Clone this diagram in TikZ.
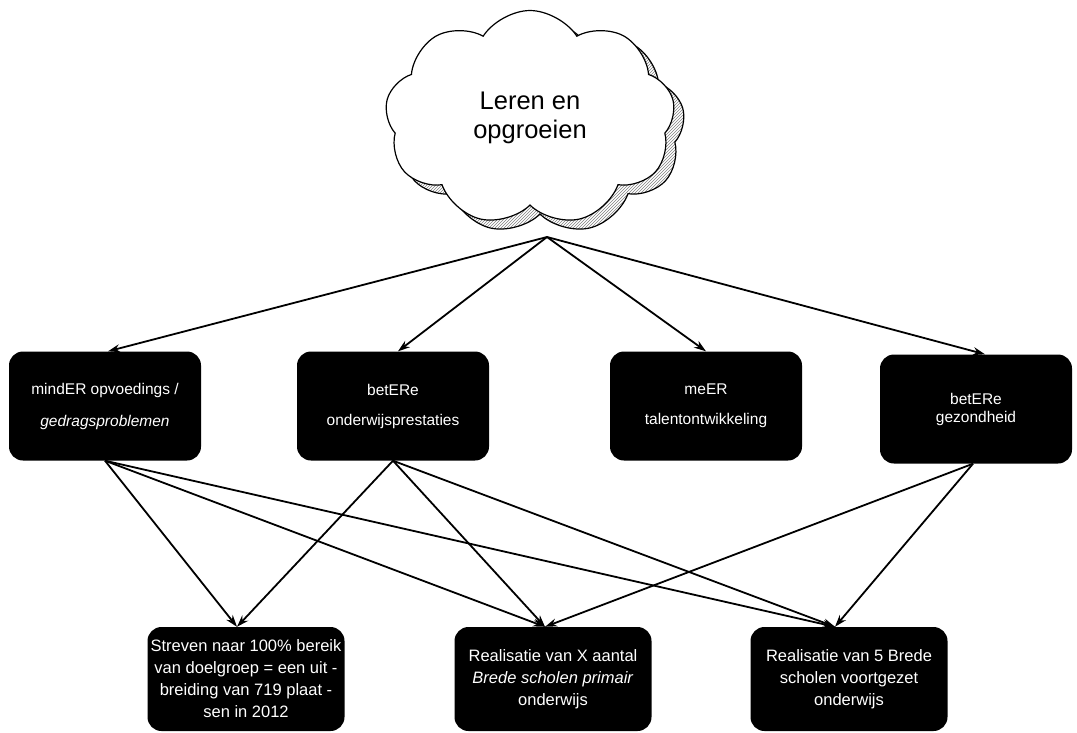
\documentclass[tikz,border=0pt]{standalone}
\usepackage{fontspec}
\setmainfont{Liberation Sans}
\usetikzlibrary{shapes.symbols,arrows.meta,patterns}

\begin{document}
\begin{tikzpicture}[x=1pt, y=-1pt, >={Stealth[length=12pt,width=8pt]},
  blok/.style={fill=black, rounded corners=14pt, text=white, align=center, inner sep=0pt},
  doel/.style={blok, minimum width=192pt, minimum height=109pt, font=\fontsize{15.5}{18}\selectfont},
  actie/.style={blok, minimum width=197pt, minimum height=104pt, font=\fontsize{16.5}{22}\selectfont},
  wolk/.style={cloud, cloud puffs=9, cloud puff arc=115, aspect=1.35, minimum width=290pt, minimum height=215pt, draw, line width=1.2pt},
  pijl/.style={->, line width=1.8pt}]
  \useasboundingbox (0,0) rectangle (1077,732);

  % Облако с тенью
  \node[wolk, pattern=north east lines, pattern color=gray] (schaduw) at (540,127) {};
  \node[wolk, fill=white, align=center, font=\fontsize{25.5}{29}\selectfont] (leren) at (530,118) {Leren en\\opgroeien};
  \coordinate (bron) at (547,237);

  % Цели
  \node[doel] (minder) at (105,406) {mindER opvoedings /\\[14pt]\textit{gedragsproblemen}};
  \node[doel] (beterOnd) at (393,406) {betERe\\[12pt]onderwijsprestaties};
  \node[doel] (meer) at (706,406) {meER\\[12pt]talentontwikkeling};
  \node[doel] (beterGez) at (976,409) {betERe\\gezondheid};

  % Действия
  \node[actie] (streven) at (246,679) {Streven naar 100\% bereik\\van doelgroep = een uit -\\breiding van 719 plaat -\\sen in 2012};
  \node[actie] (realPO) at (553,679) {Realisatie van X aantal\\\textit{Brede scholen primair}\\onderwijs};
  \node[actie] (realVO) at (849,679) {Realisatie van 5 Brede\\scholen voortgezet\\onderwijs};

  % Стрелки от облака к целям
  \draw[pijl] (bron) -- ([xshift=3pt]minder.north);
  \draw[pijl] (bron) -- ([xshift=5pt]beterOnd.north);
  \draw[pijl] (bron) -- (meer.north);
  \draw[pijl] (bron) -- ([xshift=9pt]beterGez.north);

  % Стрелки от целей к действиям
  \draw[pijl] (minder.south) -- ([xshift=-9pt]streven.north);
  \draw[pijl] (minder.south) -- ([xshift=-8pt]realPO.north);
  \draw[pijl] (minder.south) -- ([xshift=-14pt]realVO.north);
  \draw[pijl] (beterOnd.south) -- ([xshift=-9pt]streven.north);
  \draw[pijl] (beterOnd.south) -- ([xshift=-8pt]realPO.north);
  \draw[pijl] (beterOnd.south) -- ([xshift=-14pt]realVO.north);
  \draw[pijl] ([xshift=-3pt]beterGez.south) -- ([xshift=-8pt]realPO.north);
  \draw[pijl] ([xshift=-3pt]beterGez.south) -- ([xshift=-14pt]realVO.north);
\end{tikzpicture}
\end{document}
